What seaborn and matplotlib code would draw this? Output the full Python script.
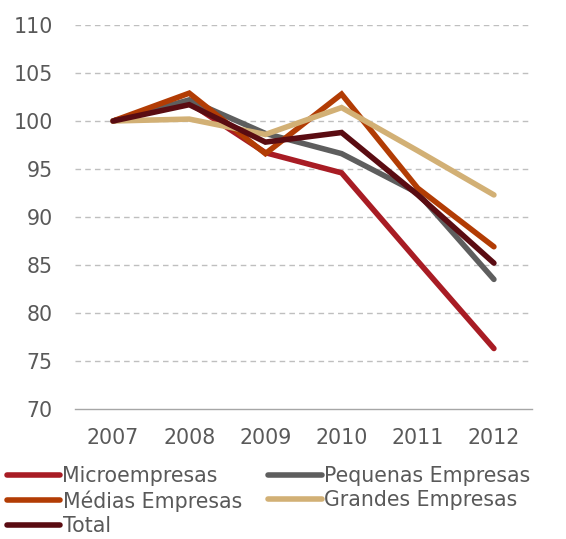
import matplotlib
matplotlib.use("Agg")
import matplotlib.pyplot as plt
import seaborn as sns
import pandas as pd
import numpy as np

years = ["2007", "2008", "2009", "2010", "2011", "2012"]
micro = [100, 101.9, 96.7, 94.6, 85.4, 76.3]
pequenas = [100, 102.2, 98.7, 96.6, 92.5, 83.5]
medias = [100, 102.9, 96.6, 102.8, 93.0, 86.9]
grandes = [100, 100.2, 98.6, 101.4, 96.9, 92.3]
total = [100, 101.7, 97.8, 98.8, 92.3, 85.2]

series = {
    "Microempresas": micro,
    "Pequenas Empresas": pequenas,
    "Médias Empresas": medias,
    "Grandes Empresas": grandes,
    "Total": total,
}
colors = {
    "Microempresas": "#A81C24",
    "Pequenas Empresas": "#5E5E5E",
    "Médias Empresas": "#B23C04",
    "Grandes Empresas": "#D2B075",
    "Total": "#5A0C12",
}

rows = []
for name, vals in series.items():
    for i, v in enumerate(vals):
        rows.append({"idx": i, "value": v, "serie": name})
df = pd.DataFrame(rows)

sns.set_theme(style="white")
plt.rcParams["font.family"] = ["DejaVu Sans"]

fs = 14.8
fig = plt.figure(figsize=(5.66, 5.39), dpi=100)
ax = fig.add_axes([75 / 566, 1 - 409 / 539, (532 - 75) / 566, (409 - 25) / 539])

sns.lineplot(data=df, x="idx", y="value", hue="serie", palette=colors,
             hue_order=list(series.keys()), linewidth=4, ax=ax, legend=False,
             solid_capstyle="round", solid_joinstyle="miter")

ax.set_xlim(-0.5, 5.5)
ax.set_ylim(70, 110)
ax.set_yticks(np.arange(70, 111, 5))
ax.set_xticks(range(len(years)))
ax.set_xticklabels(years)
ax.set_xticks(np.arange(-0.5, 6, 1), minor=True)
ax.set_xlabel("")
ax.set_ylabel("")

for y in np.arange(75, 111, 5):
    ax.axhline(y, color="#BFBFBF", linestyle=(0, (4, 3)), linewidth=1, zorder=0)

for s in ["top", "right", "left"]:
    ax.spines[s].set_visible(False)
ax.spines["bottom"].set_color("#A6A6A6")
ax.spines["bottom"].set_linewidth(1)

ax.tick_params(axis="x", which="major", length=0, pad=14, labelsize=fs, labelcolor="#595959")
ax.tick_params(axis="x", which="minor", length=6, width=1, color="#A6A6A6", direction="out")
ax.tick_params(axis="y", length=0, pad=16, labelsize=fs, labelcolor="#595959")

order = ["Microempresas", "Médias Empresas", "Total", "Pequenas Empresas", "Grandes Empresas"]
handles = [plt.Line2D([0], [0], color=colors[n], linewidth=4, solid_capstyle="round") for n in order]
fig.legend(handles, order, loc="upper left", bbox_to_anchor=(7 / 566, 1 - 466 / 539),
           ncol=2, frameon=False, fontsize=fs, labelcolor="#595959",
           handlelength=2.6, handletextpad=0.1, columnspacing=1.3,
           labelspacing=0.2, borderaxespad=0, borderpad=0)

fig.savefig("out.png", dpi=100)
